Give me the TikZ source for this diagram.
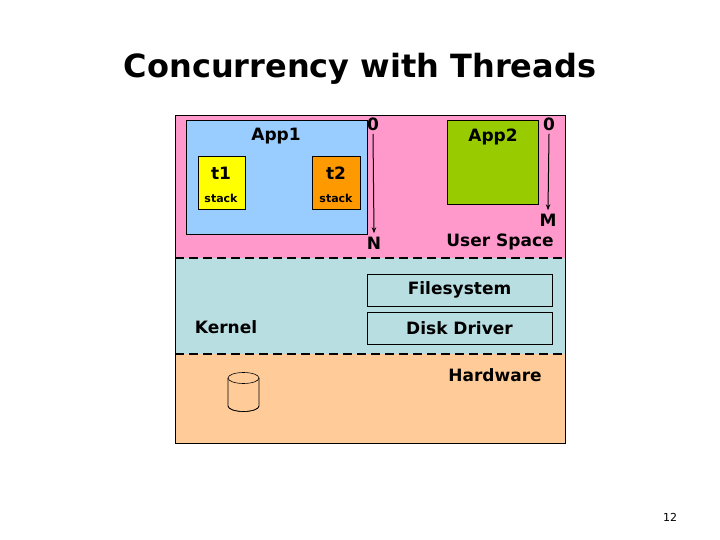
\documentclass[tikz,border=0pt]{standalone}
\usepackage{fontspec}
\setmainfont{DejaVu Sans}
\usetikzlibrary{arrows.meta}
\definecolor{userpink}{RGB}{255,153,204}
\definecolor{kernblue}{RGB}{185,222,226}
\definecolor{hwpeach}{RGB}{255,204,153}
\definecolor{appblue}{RGB}{153,204,255}
\definecolor{appgreen}{RGB}{153,204,0}
\definecolor{tyellow}{RGB}{255,255,0}
\definecolor{torange}{RGB}{255,153,0}
\tikzset{
  box/.style={draw,line width=0.8pt,inner sep=0pt},
  lbl/.style={font=\bfseries\fontsize{17}{19}\selectfont},
  tiny/.style={font=\bfseries\fontsize{11}{12}\selectfont},
  layerline/.style={line width=2pt,dash pattern=on 9pt off 5pt},
  addr/.style={-{Stealth[length=6pt]},line width=1pt}
}
\begin{document}
\begin{tikzpicture}[x=1pt,y=-1pt]
\useasboundingbox (0,0) rectangle (720,540);
\fill[white] (0,0) rectangle (720,540);
\node[font=\bfseries\fontsize{32}{36}\selectfont] (title) at (360,69) {Concurrency with Threads};
% layers
\fill[userpink] (175,115) rectangle (565,258);
\fill[kernblue] (175,258) rectangle (565,354);
\fill[hwpeach] (175,354) rectangle (565,443);
\draw[line width=0.8pt] (175,115) rectangle (565,443);
\draw[layerline] (175,258) -- (565,258);
\draw[layerline] (175,354) -- (565,354);
% user space
\draw[box,fill=appblue] (186,120) rectangle (367,234);
\node[lbl] (app1) at (276,136) {App1};
\draw[box,fill=tyellow] (198,156) rectangle (245,209);
\node[lbl] (t1) at (221,173) {t1};
\node[tiny] (s1) at (221,198) {stack};
\draw[box,fill=torange] (312,156) rectangle (360,209);
\node[lbl] (t2) at (336,173) {t2};
\node[tiny] (s2) at (336,198) {stack};
\draw[box,fill=appgreen] (447,120) rectangle (538,204);
\node[lbl] (app2) at (493,137) {App2};
\node[lbl] (z1) at (373,124) {0};
\node[lbl] (n) at (374,243) {N};
\draw[addr] (z1.south) -- (n.north);
\node[lbl] (z2) at (549,124) {0};
\node[lbl] (m) at (548,220) {M};
\draw[addr] (z2.south) -- (m.north);
\node[lbl] (user) at (500,242) {User Space};
% kernel
\node[box,lbl,minimum width=185pt,minimum height=32pt] (fs) at (459.5,290) {Filesystem};
\node[box,lbl,minimum width=185pt,minimum height=32pt] (dd) at (459.5,328) {Disk Driver};
\node[lbl] (kern) at (226,327) {Kernel};
% hardware
\node[lbl] (hw) at (495,375) {Hardware};
\draw[line width=0.6pt] (243.5,378) ellipse [x radius=15.5, y radius=5.5];
\draw[line width=0.6pt] (228,378) -- (228,406) arc[start angle=180,end angle=0,x radius=15.5,y radius=5.5] -- (259,378);
\draw[line width=0.6pt] (228,406) arc[start angle=180,end angle=360,x radius=15.5,y radius=-5.5];
\node[font=\fontsize{11}{12}\selectfont] (pg) at (670,517) {12};
\end{tikzpicture}
\end{document}
